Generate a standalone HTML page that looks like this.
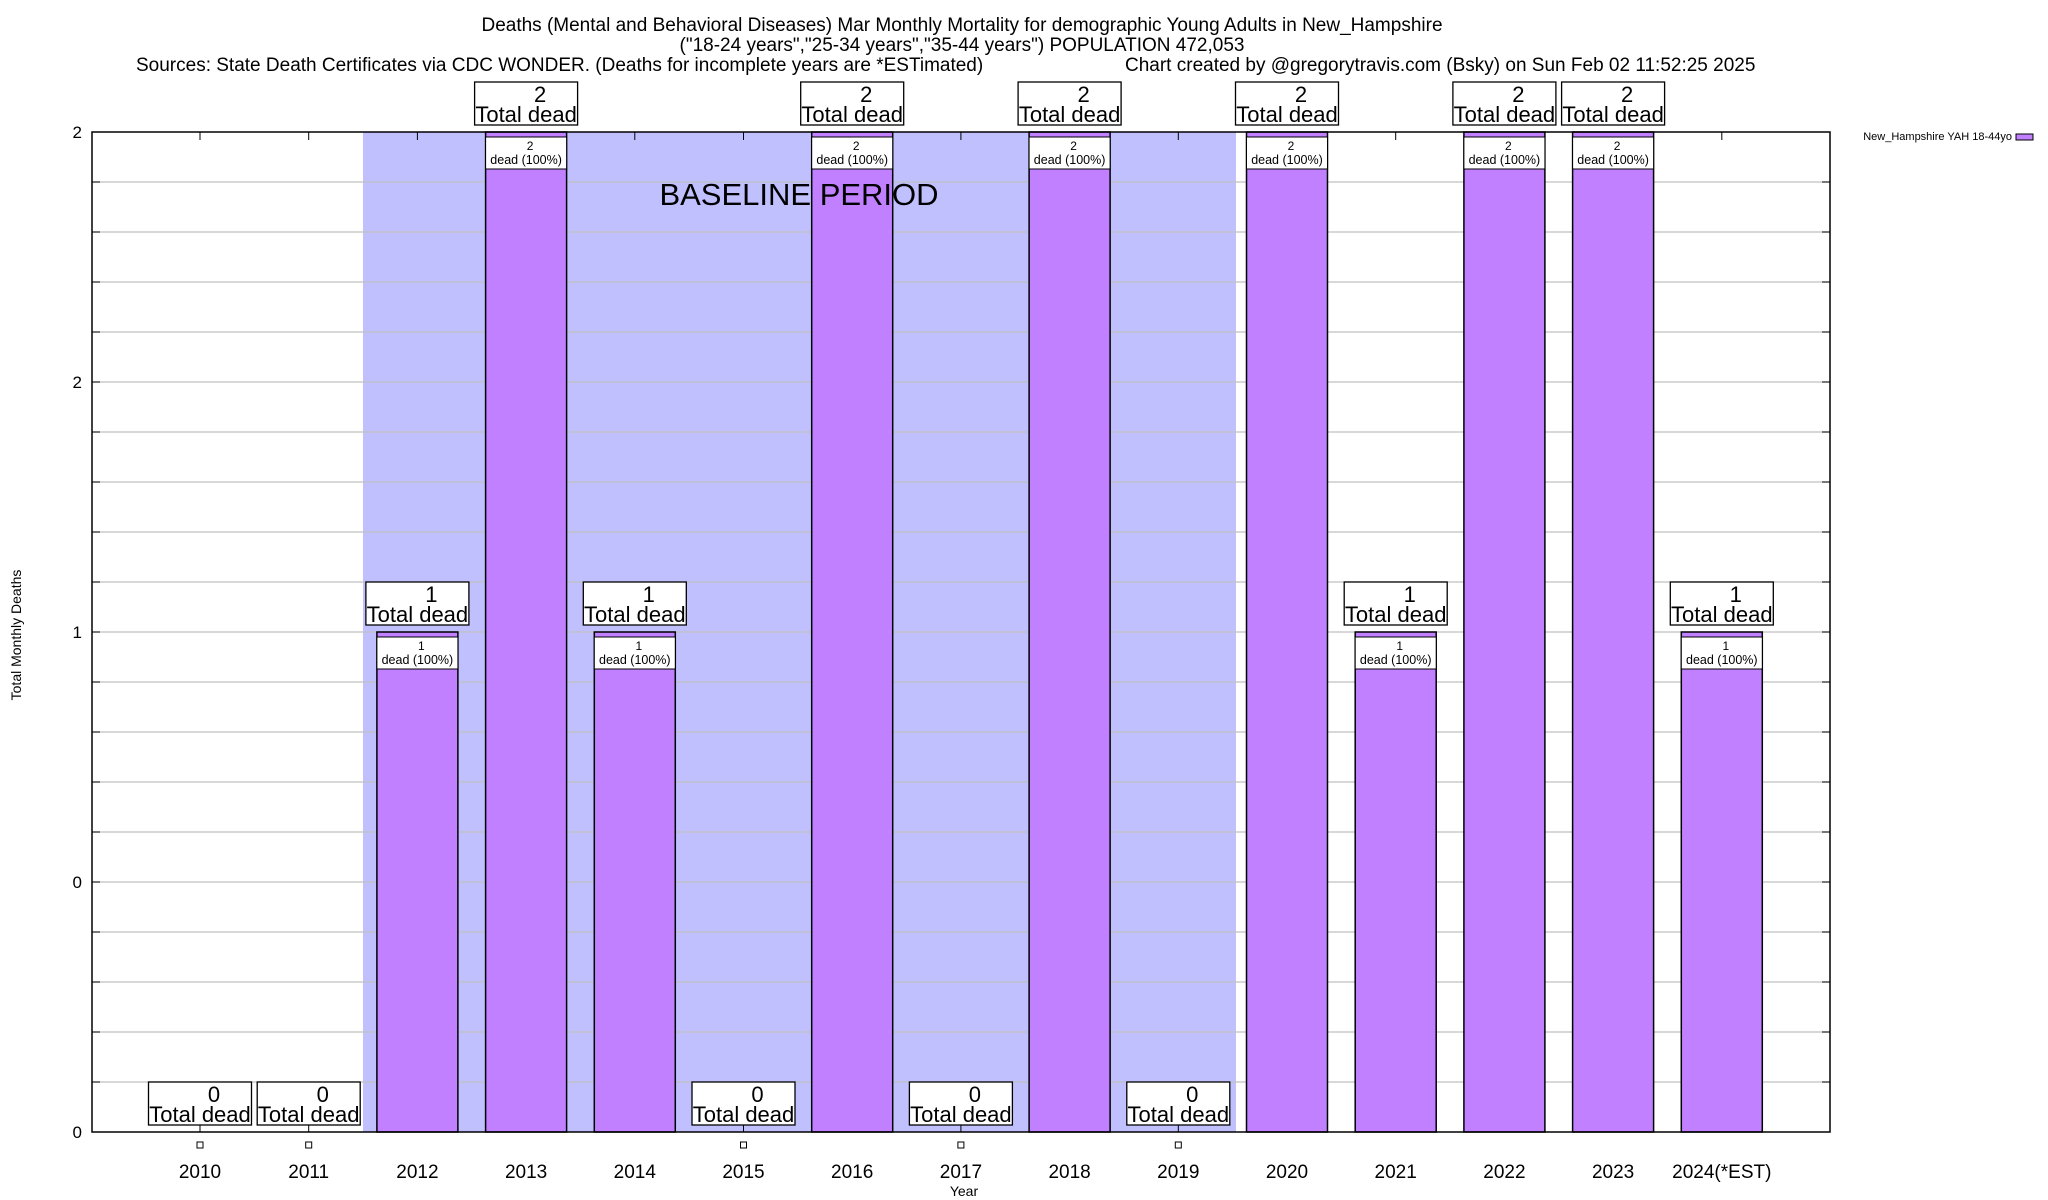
<!DOCTYPE html>
<html><head><meta charset="utf-8"><style>
html,body{margin:0;padding:0;background:#fff;}
svg{display:block;font-family:"Liberation Sans",Arial,sans-serif;}
</style></head><body>
<svg id="s" width="2048" height="1200" viewBox="0 0 2048 1200" xmlns="http://www.w3.org/2000/svg">
<rect x="0" y="0" width="2048" height="1200" fill="#fff"/>
<text x="962" y="31" font-size="19" text-anchor="middle">Deaths (Mental and Behavioral Diseases) Mar Monthly Mortality for demographic Young Adults in New_Hampshire</text>
<text x="962" y="51" font-size="19" text-anchor="middle">("18-24 years","25-34 years","35-44 years") POPULATION 472,053</text>
<text x="136" y="71" font-size="19">Sources: State Death Certificates via CDC WONDER. (Deaths for incomplete years are *ESTimated)</text>
<text x="1125" y="71" font-size="19">Chart created by @gregorytravis.com (Bsky) on Sun Feb 02 11:52:25 2025</text>
<g id="g"></g>
<text x="2012" y="140" font-size="11" text-anchor="end">New_Hampshire YAH 18-44yo</text>
<rect x="2016" y="134" width="17" height="6" fill="#c080ff" stroke="#000" stroke-width="1"/>
<text transform="translate(21,635) rotate(-90)" font-size="14" text-anchor="middle">Total Monthly Deaths</text>
<text x="964" y="1196" font-size="14" text-anchor="middle">Year</text>
</svg>
<script>
(function(){
var g=document.getElementById('g'),ns='http://www.w3.org/2000/svg';
function el(t,a,txt){var e=document.createElementNS(ns,t);for(var k in a)e.setAttribute(k,a[k]);if(txt!==undefined)e.textContent=txt;g.appendChild(e);return e;}
var L=92,R=1830,T=132,B=1132;
el('rect',{x:363,y:T,width:873,height:B-T,fill:'#c0c0ff'});
for(var i=1;i<20;i++){var y=B-i*50;el('line',{x1:L,x2:R,y1:y,y2:y,stroke:'#c0c0c0','stroke-width':1.2});
el('line',{x1:L,x2:L+8,y1:y,y2:y,stroke:'#000'});el('line',{x1:R-8,x2:R,y1:y,y2:y,stroke:'#000'});}
var yl=[[B,'0'],[B-250,'0'],[B-500,'1'],[B-750,'2'],[T,'2']];
yl.forEach(function(p){el('text',{x:82,y:p[0]+6,'font-size':17,'text-anchor':'end'},p[1]);});
var years=['2010','2011','2012','2013','2014','2015','2016','2017','2018','2019','2020','2021','2022','2023','2024(*EST)'];
var vals=[0,0,1,2,1,0,2,0,2,0,2,1,2,2,1];
for(var j=0;j<15;j++){
 var c=200+108.7*j,v=vals[j],bt=B-500*v;
 el('line',{x1:c,x2:c,y1:T,y2:T+8,stroke:'#000'});
 if(v>0){
  el('rect',{x:c-40.5,y:bt,width:81,height:B-bt,fill:'#c080ff',stroke:'#000','stroke-width':1.5});
  el('rect',{x:c-40.5,y:bt+5,width:81,height:32,fill:'#fff',stroke:'#000','stroke-width':1});
  el('text',{x:c+4,y:bt+18,'font-size':12,'text-anchor':'middle'},String(v));
  el('text',{x:c,y:bt+32,'font-size':12.5,'text-anchor':'middle'},'dead (100%)');
 } else {
  el('line',{x1:c,x2:c,y1:B-8,y2:B,stroke:'#000'});
  el('rect',{x:c-3,y:B+10,width:6,height:6,fill:'#fff',stroke:'#000','stroke-width':1});
 }
 var bb=bt-7;
 el('rect',{x:c-51.5,y:bb-43,width:103,height:43,fill:'#fff',stroke:'#000','stroke-width':1.3});
 el('text',{x:c+14,y:bb-23,'font-size':22,'text-anchor':'middle'},String(v));
 el('text',{x:c,y:bb-3,'font-size':22,'text-anchor':'middle'},'Total dead');
 el('text',{x:c,y:1178,'font-size':19,'text-anchor':'middle'},years[j]);
}
el('text',{x:799,y:205,'font-size':31,'text-anchor':'middle'},'BASELINE PERIOD');
var f=document.createElementNS(ns,'rect');
f.setAttribute('x',L);f.setAttribute('y',T);f.setAttribute('width',R-L);f.setAttribute('height',B-T);
f.setAttribute('fill','none');f.setAttribute('stroke','#000');f.setAttribute('stroke-width','1.5');g.appendChild(f);
})();
</script>
</body></html>
